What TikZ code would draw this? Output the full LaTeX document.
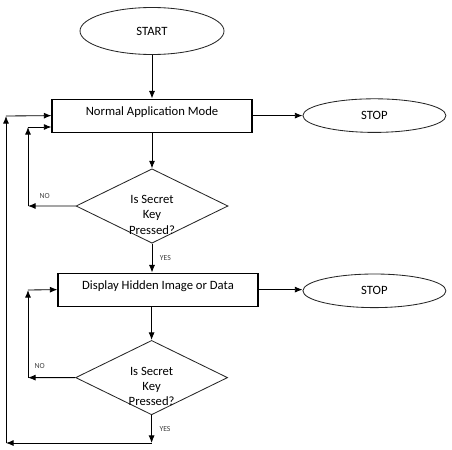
\documentclass[tikz,border=0pt]{standalone}
\usepackage{fontspec}
\setmainfont{Carlito}
\usetikzlibrary{shapes.geometric, arrows.meta}

\tikzset{
    term/.style={ellipse, draw=black!85, semithick, minimum width=3.6cm, minimum height=1.175cm, inner sep=0pt, font=\small},
    stopterm/.style={ellipse, draw=black!85, semithick, minimum width=3.575cm, minimum height=0.84cm, inner sep=0pt, font=\small},
    procbox/.style={rectangle, draw, thick, minimum width=5cm, minimum height=0.825cm, inner sep=0pt, font=\small, text height=7pt, text depth=7pt},
    decision/.style={diamond, draw=black!85, semithick, minimum width=3.8cm, minimum height=1.86cm, inner sep=0pt},
    qtext/.style={align=center, font=\small, yshift=-0.22cm},
    ans/.style={font=\fontsize{5.5}{6}\selectfont, text=black!75}
}

\begin{document}
\begin{tikzpicture}[>={Latex[length=1.9mm,width=1.5mm]}]
    \useasboundingbox (0,0) rectangle (11.3,-11.225);

    % Nodes
    \node (start) [term] at (3.8,-0.775) {START};
    \node (normal) [procbox, below of=start, node distance=2.115cm] {Normal Application Mode};
    \node (stopa) [stopterm, right of=normal, node distance=5.56cm] {STOP};
    \node (keya) [decision, below of=normal, node distance=2.26cm] {};
    \node [qtext] at (keya) {Is Secret\\Key\\Pressed?};
    \node (display) [procbox, below of=keya, node distance=2.09cm, xshift=0.15cm] {Display Hidden Image or Data};
    \node (stopb) [stopterm, right of=display, node distance=5.41cm, yshift=-0.03cm] {STOP};
    \node (keyb) [decision, below of=display, node distance=2.2cm, xshift=-0.16cm] {};
    \node [qtext] at (keyb) {Is Secret\\Key\\Pressed?};

    % Loop corners
    \coordinate (noa) at (0.7,-5.15);
    \coordinate (cora) at (0.7,-3.175);
    \coordinate (nob) at (0.7,-9.44);
    \coordinate (corb) at (0.7,-7.25);
    \coordinate (yesb) at (3.79,-11.075);
    \coordinate (back) at (0.15,-11.075);
    \coordinate (top) at (0.15,-2.9);

    % Arrows
    \draw[->, semithick] (start) -- (normal);
    \draw[->, semithick] (normal) -- (normal -| stopa.west);
    \draw[->, semithick] (normal) -- (keya);
    \draw[->, semithick] (keya.south) -- node[ans, right, xshift=2pt] {YES} (keya.south |- display.north);
    \draw[->, semithick] (display) -- (display -| stopb.west);
    \draw[->, semithick] (display.south -| keyb.north) -- (keyb.north);

    \draw[->, semithick] (keya.west) -- node[ans, above, pos=0.65, yshift=2pt] {NO} (noa);
    \draw[->, semithick] (noa) -- (cora);
    \draw[->, semithick] (cora) -- (cora -| normal.west);

    \draw[->, semithick] (keyb.west) -- node[ans, above, pos=0.75, yshift=3pt] {NO} (nob);
    \draw[->, semithick] (nob) -- (corb);
    \draw[->, semithick] (corb) -- (display.west);

    \draw[->, semithick] (keyb.south) -- node[ans, right, xshift=2pt] {YES} (yesb);
    \draw[->, semithick] (yesb) -- (back);
    \draw[->, semithick] (back) -- (top);
    \draw[->, semithick] (top) -- (normal.west);
\end{tikzpicture}
\end{document}
